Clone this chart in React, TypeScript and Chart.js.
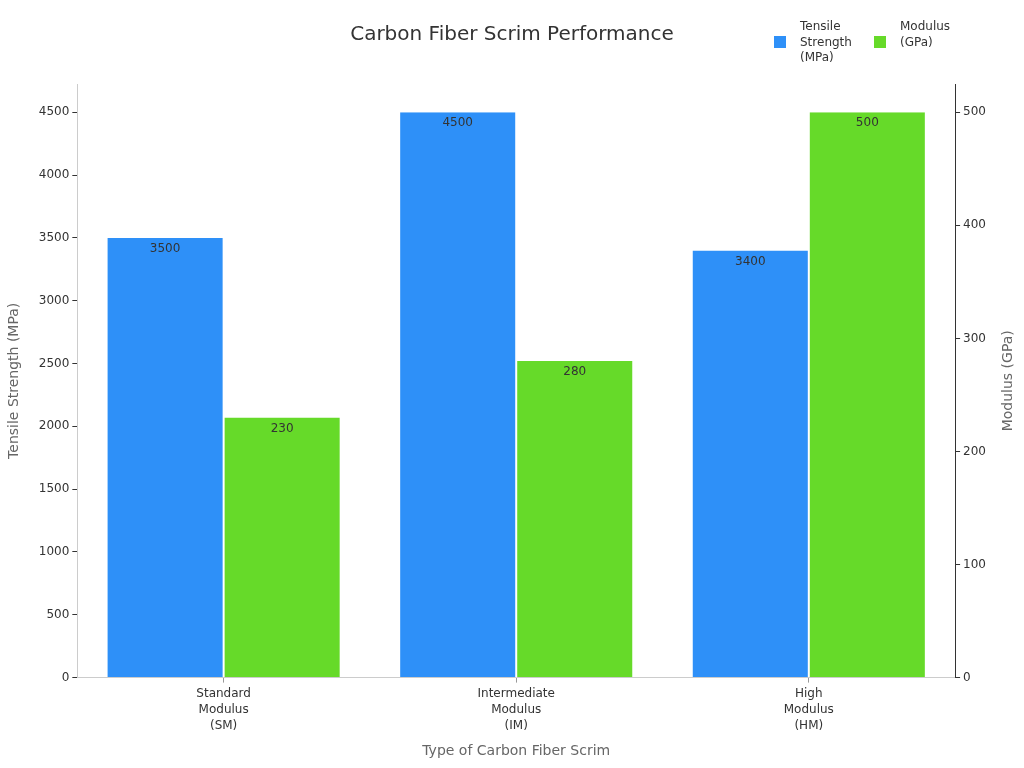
import React, { useEffect, useRef } from "react";
import { Chart, registerables } from "chart.js";

Chart.register(...registerables);

const categories: string[][] = [
  ["Standard", "Modulus", "(SM)"],
  ["Intermediate", "Modulus", "(IM)"],
  ["High", "Modulus", "(HM)"],
];
const tensileStrength: number[] = [3500, 4500, 3400];
const modulus: number[] = [230, 280, 500];
const leftTicks: number[] = [0, 500, 1000, 1500, 2000, 2500, 3000, 3500, 4000, 4500];
const rightTicks: number[] = [0, 100, 200, 300, 400, 500];
const legendLabels: string[][] = [
  ["Tensile", "Strength", "(MPa)"],
  ["Modulus", "(GPa)"],
];
const chartTitle = "Carbon Fiber Scrim Performance";
const rightAxisTitle = "Modulus (GPa)";

const BLUE = "#2E90F8";
const GREEN = "#66DA29";
const FONT = "'DejaVu Sans', sans-serif";

const valueLabels = {
  id: "valueLabels",
  afterDatasetsDraw(chart: any) {
    const ctx = chart.ctx;
    ctx.save();
    ctx.font = `12px ${FONT}`;
    ctx.fillStyle = "#333333";
    ctx.textAlign = "center";
    ctx.textBaseline = "middle";
    chart.data.datasets.forEach((ds: any, i: number) => {
      const meta = chart.getDatasetMeta(i);
      meta.data.forEach((bar: any, j: number) => {
        ctx.fillText(String(ds.data[j]), bar.x, bar.y + 11);
      });
    });
    ctx.restore();
  },
};

const customDecor = {
  id: "customDecor",
  afterDraw(chart: any) {
    const ctx = chart.ctx;
    ctx.save();
    // main title
    ctx.font = `20px ${FONT}`;
    ctx.fillStyle = "#333333";
    ctx.textAlign = "center";
    ctx.textBaseline = "middle";
    ctx.fillText(chartTitle, 512, 35);
    // legend
    ctx.font = `12px ${FONT}`;
    ctx.textAlign = "left";
    const items = [
      { x: 774, color: BLUE, lines: legendLabels[0] },
      { x: 874, color: GREEN, lines: legendLabels[1] },
    ];
    items.forEach((it) => {
      ctx.fillStyle = it.color;
      ctx.fillRect(it.x, 36, 12, 12);
      ctx.fillStyle = "#333333";
      it.lines.forEach((l: string, k: number) => {
        ctx.fillText(l, it.x + 26, 27 + k * 15.5);
      });
    });
    // right axis title, reading bottom-to-top
    const area = chart.chartArea;
    ctx.translate(1008, (area.top + area.bottom) / 2);
    ctx.rotate(-Math.PI / 2);
    ctx.font = `14px ${FONT}`;
    ctx.fillStyle = "#666666";
    ctx.textAlign = "center";
    ctx.fillText(rightAxisTitle, 0, 0);
    ctx.restore();
  },
};

export default function App() {
  const ref = useRef<HTMLCanvasElement | null>(null);
  useEffect(() => {
    if (!ref.current) return;
    const chart = new Chart(ref.current, {
      type: "bar",
      data: {
        labels: categories as any,
        datasets: [
          {
            label: "Tensile Strength (MPa)",
            data: tensileStrength,
            backgroundColor: BLUE,
            borderColor: "#ffffff",
            borderWidth: { left: 1, right: 1, top: 0, bottom: 0 } as any,
            yAxisID: "y",
            categoryPercentage: 0.8,
            barPercentage: 1.0,
          },
          {
            label: "Modulus (GPa)",
            data: modulus,
            backgroundColor: GREEN,
            borderColor: "#ffffff",
            borderWidth: { left: 1, right: 1, top: 0, bottom: 0 } as any,
            yAxisID: "y1",
            categoryPercentage: 0.8,
            barPercentage: 1.0,
          },
        ],
      },
      options: {
        animation: false,
        responsive: false,
        layout: { padding: { top: 84, left: 6, right: 35, bottom: 8 } },
        plugins: {
          legend: { display: false },
          tooltip: { enabled: false },
          title: { display: false },
        },
        scales: {
          x: {
            grid: { display: true, offset: false, drawOnChartArea: false, drawTicks: true, tickLength: 5, color: "#999999" },
            border: { display: true, color: "#cccccc" },
            ticks: { color: "#333333", font: { family: FONT, size: 12, lineHeight: 1.35 }, maxRotation: 0, padding: 3 },
            title: {
              display: true,
              text: "Type of Carbon Fiber Scrim",
              color: "#666666",
              font: { family: FONT, size: 14 },
              padding: { top: 6, bottom: 0 },
            },
          },
          y: {
            position: "left",
            min: 0,
            max: 4725,
            afterBuildTicks: (axis: any) => {
              axis.ticks = leftTicks.map((v) => ({ value: v }));
            },
            grid: { display: true, drawOnChartArea: false, drawTicks: true, tickLength: 5, color: "#333333" },
            border: { display: true, color: "#cccccc" },
            ticks: {
              autoSkip: false,
              color: "#333333",
              font: { family: FONT, size: 12 },
              padding: 3,
              callback: (v: any) => String(v),
            },
            title: {
              display: true,
              text: "Tensile Strength (MPa)",
              color: "#666666",
              font: { family: FONT, size: 14 },
              padding: { top: 0, bottom: 13 },
            },
          },
          y1: {
            position: "right",
            min: 0,
            max: 525,
            afterBuildTicks: (axis: any) => {
              axis.ticks = rightTicks.map((v) => ({ value: v }));
            },
            grid: { display: true, drawOnChartArea: false, drawTicks: true, tickLength: 5, color: "#333333" },
            border: { display: true, color: "#333333" },
            ticks: {
              autoSkip: false,
              color: "#333333",
              font: { family: FONT, size: 12 },
              padding: 3,
              callback: (v: any) => String(v),
            },
            title: { display: false },
          },
        },
      },
      plugins: [valueLabels, customDecor],
    });
    return () => chart.destroy();
  }, []);
  return (
    <div style={{ position: "fixed", left: 0, top: 0, width: 1024, height: 768, background: "#ffffff" }}>
      <canvas ref={ref} width={1024} height={768} style={{ width: 1024, height: 768 }} />
    </div>
  );
}
